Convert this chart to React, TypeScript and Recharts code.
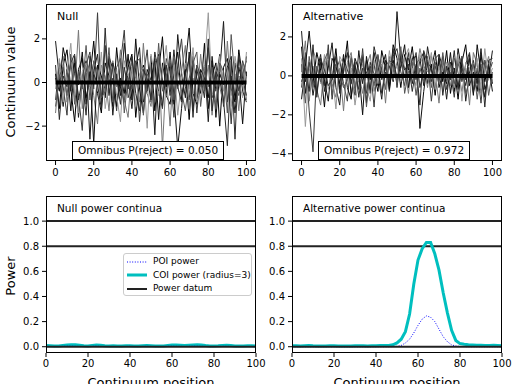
import { LineChart, Line, XAxis, YAxis, ReferenceLine } from 'recharts'

// continuum positions (every 2 units)
const POSITIONS = [
  0, 2, 4, 6, 8, 10, 12, 14, 16, 18, 20, 22, 24, 26, 28, 30, 32, 34, 36, 38, 40, 42, 44, 46, 48, 50,
  52, 54, 56, 58, 60, 62, 64, 66, 68, 70, 72, 74, 76, 78, 80, 82, 84, 86, 88, 90, 92, 94, 96, 98, 100,
]

// null continua
const NULL_1 = [0.4,-1.2,0.8,1.5,-0.3,-1.8,0.6,1.1,-0.7,0.2, 1.9,-0.5,-1.4,0.9,0.3,-1.1,1.6,-0.2,-0.9,0.7, 1.3,-1.6,0.1,0.8,-0.4,1.2,-1.3,0.5,2.1,-0.6, -1.0,0.4,1.4,-0.8,0.6,-1.7,1.0,0.2,-0.5,1.8, -1.2,0.3,0.9,-2.0,0.7,1.1,-0.3,-0.9,1.5,0.2, -0.6]
const NULL_2 = [-0.8,0.9,-0.2,-1.5,1.3,0.4,-0.6,-2.2,0.8,1.4, -0.3,3.2,-1.0,1.7,-0.5,0.2,-1.3,0.9,2.4,-0.7, -0.1,1.0,-1.8,0.3,1.5,-0.9,0.7,-0.4,-1.2,1.1, 0.5,-1.6,0.8,2.0,-0.2,-0.8,1.2,-1.4,0.4,-0.3, 1.6,-0.7,0.1,1.3,-1.1,0.6,-1.9,0.9,-0.4,1.0, 0.3]
const NULL_3 = [1.9,0.2,-1.1,0.6,-0.4,1.2,-1.6,0.3,1.0,-2.6, 0.5,1.3,-0.8,-0.1,1.1,-1.5,0.4,-0.6,1.8,0.2, -1.2,0.7,1.6,-0.9,-0.3,0.8,-2.4,1.3,0.1,-0.5, 0.9,-1.0,2.2,0.4,-0.7,1.4,-1.3,0.6,-0.2,0.8, -1.8,1.2,-0.4,0.5,2.8,-0.9,0.3,-1.4,0.7,-0.1, 1.2]
const NULL_4 = [-1.4,0.6,1.2,-0.9,0.1,-0.5,2.4,-1.2,0.4,0.9, -0.6,-1.9,0.8,0.3,-1.3,1.0,-0.2,1.5,-0.8,-1.6, 0.7,0.2,-0.9,1.8,-0.5,-1.1,0.9,1.2,-3.0,0.4, -2.0,1.1,-0.3,0.5,1.7,-1.2,0.2,-0.7,1.3,-0.4, 0.8,-1.5,0.6,-0.2,-1.0,1.9,-0.6,0.4,-1.3,0.9, -0.8]
const NULL_5 = [0.2,-0.4,1.6,0.7,-1.3,0.9,-0.1,1.4,-1.0,0.5, -2.8,0.8,0.3,-0.7,1.2,0.6,-1.1,0.2,-0.5,1.3, -0.8,2.0,-0.3,-1.4,0.6,0.1,1.1,-1.7,0.9,-0.2, 1.4,-0.6,-3.0,-1.2,0.8,2.5,-0.5,-1.0,0.6,0.2, -0.7,1.0,-1.6,0.4,-0.1,0.7,1.2,-0.8,0.3,-1.9, 0.5]
const NULL_6 = [-0.3,1.1,-0.9,0.4,1.8,-0.7,-1.4,0.5,0.9,-0.2, 0.6,-0.4,1.4,-1.2,0.1,0.8,-0.6,-1.8,1.0,0.3, 0.9,-1.1,0.4,0.7,-2.1,1.3,0.2,-0.6,0.5,1.7, -0.4,0.8,-1.5,0.1,0.9,-0.3,1.6,-0.9,-0.2,0.7, 3.2,-0.5,-0.9,1.2,-0.4,0.6,-1.1,1.2,0.1,-0.7, 1.4]
const NULL_7 = [0.8,-1.7,0.3,-0.2,0.9,1.3,-0.8,0.1,-1.5,1.2, 0.4,-0.1,-1.2,2.5,-0.6,0.9,0.2,-1.0,0.7,-0.3, 1.2,-0.5,-1.3,0.6,0.2,-0.8,1.4,0.4,-1.1,0.8, -0.6,1.5,-0.2,-0.9,0.4,1.1,-1.6,0.8,0.3,-0.7, 2.0,-1.3,0.5,0.1,-0.8,-2.9,1.0,-2.6,1.3,-0.4, -0.9]
const NULL_8 = [-1.1,0.3,0.7,-0.6,1.0,-1.0,0.5,-0.3,1.7,-0.8, 1.0,0.5,-0.7,-0.4,1.6,-0.9,0.7,1.1,-1.4,0.2, -0.3,0.9,1.1,-1.5,0.4,-0.1,-0.9,1.8,-0.4,0.3, 1.0,-0.8,0.6,-0.4,-1.3,0.2,0.9,1.4,-1.1,0.5, -0.2,0.7,-1.2,0.9,0.5,-1.4,2.2,0.1,-0.6,0.4, 1.0]

// alternative continua
const ALT_1 = [1.5,-0.9,0.6,-0.4,1.2,0.3,-1.6,0.8,-0.2,1.4, -0.7,0.2,1.8,-1.1,0.5,-0.3,1.0,-1.4,0.7,0.1, -0.8,1.3,0.4,-0.5,1.6,0.9,-0.6,1.1,0.3,1.5, -0.2,0.8,1.2,-0.4,0.6,-1.0,0.9,-0.3,1.3,-0.9, 0.4,-1.2,0.7,1.6,-0.5,0.2,-0.8,1.1,-0.3,0.6, -0.4]
const ALT_2 = [-0.6,1.2,-1.8,-3.9,0.4,0.9,-0.5,1.6,-1.2,0.3, 0.8,-0.4,-1.3,1.0,0.2,-0.7,1.4,-0.9,0.5,-1.6, 1.1,-0.2,0.6,-0.8,1.0,1.4,0.2,-0.5,0.9,0.4, 1.2,-0.6,0.3,0.8,-1.3,0.5,-0.2,1.0,-0.7,0.2, -1.1,0.9,-0.3,0.6,1.2,-0.9,0.4,-1.4,0.8,0.1, 0.7]
const ALT_3 = [2.3,-0.3,0.7,-1.0,0.2,1.1,-0.8,0.4,1.7,-0.6, -1.5,0.9,0.3,-0.2,-1.0,1.3,-0.4,0.8,-0.9,1.2, 0.1,-1.2,0.8,0.5,-0.3,3.3,0.7,-0.1,1.2,-0.4, 0.6,0.9,-0.5,1.5,0.3,-0.8,1.1,0.4,-1.2,0.7, 0.3,-0.6,1.0,-1.3,0.2,0.8,-0.4,1.4,-0.7,-0.1, 1.3]
const ALT_4 = [0.2,1.8,-1.3,0.5,-0.7,-1.5,0.6,1.0,-0.4,-1.1, 0.4,-1.8,0.7,1.2,-0.5,0.1,-0.9,0.5,1.1,-0.8, 0.3,0.6,-1.4,1.0,-0.2,0.7,1.3,0.4,-0.9,1.0, 0.1,1.4,0.5,-0.6,1.0,0.2,-1.4,0.8,0.3,-0.5, 0.9,0.2,-0.8,0.4,-1.5,1.2,0.6,-0.9,0.3,1.0, -0.3]
const ALT_5 = [-1.2,0.5,2.3,0.1,-0.9,0.7,-0.2,-1.3,0.9,0.5, -0.4,1.1,-0.6,-1.2,0.9,0.3,-2.0,1.0,-0.2,0.6, -0.5,0.4,1.1,-0.7,0.8,-0.1,0.5,1.6,-0.6,0.9, 1.0,-2.7,-0.8,0.7,0.4,1.3,-0.6,0.2,-0.4,1.2, -0.8,1.4,0.2,-0.5,0.9,-1.0,1.6,0.1,-1.1,0.5, -0.8]
const ALT_6 = [0.9,-2.6,0.3,1.3,0.8,-0.4,1.1,-0.7,0.2,-1.7, 1.0,0.6,-0.3,0.4,-1.5,-0.1,0.6,-0.6,-1.3,0.8, -0.4,0.9,-0.6,1.3,0.1,0.5,-0.3,0.9,1.4,0.2, -0.5,1.1,0.4,0.2,1.2,-0.7,0.5,-0.8,0.7,0.3, -0.6,1.1,-1.3,0.7,0.4,-0.4,0.9,-0.6,1.4,-0.2, 0.4]
const ALT_7 = [-0.3,0.4,-0.8,1.6,-1.1,0.9,0.3,-0.5,-0.2,1.0, -0.9,0.3,1.2,-0.4,0.7,-1.1,0.4,0.2,-0.7,1.5, 0.6,-0.9,0.2,-0.3,1.4,-0.6,1.0,0.3,0.6,-0.8, 0.4,-1.5,1.3,0.6,-0.3,0.9,1.1,-1.0,0.5,-0.2, 1.3,-0.7,0.4,-0.2,1.1,-0.8,-0.2,0.6,-1.6,0.8, 0.9]
const ALT_8 = [0.6,-1.4,1.0,-0.6,0.5,-0.3,0.8,1.3,-1.0,0.6, 0.1,-0.6,-0.2,0.9,-0.8,0.6,1.1,-1.6,0.4,-0.5, 1.0,0.2,-0.7,0.8,0.6,-0.4,1.5,-0.9,0.2,0.7, -1.0,0.4,-0.3,1.0,-0.6,0.7,-0.4,1.2,-0.3,0.6, -0.4,0.5,1.0,-0.9,-0.3,0.6,-1.2,0.3,0.8,-1.0, 0.2]

const NULL_CONTINUA = [NULL_1, NULL_2, NULL_3, NULL_4, NULL_5, NULL_6, NULL_7, NULL_8]
const ALT_CONTINUA = [ALT_1, ALT_2, ALT_3, ALT_4, ALT_5, ALT_6, ALT_7, ALT_8]
const GRAYS = ['#000000', '#3a3a3a', '#1a1a1a', '#777777', '#0d0d0d', '#999999', '#2a2a2a', '#555555']

// power continua
const NULL_COI = [0.01,0.008,0.005,0.006,0.01,0.014,0.016,0.015,0.012,0.008, 0.006,0.01,0.013,0.011,0.007,0.006,0.008,0.006,0.005,0.007, 0.008,0.006,0.005,0.008,0.01,0.008,0.006,0.005,0.006,0.01, 0.013,0.014,0.012,0.01,0.012,0.014,0.015,0.013,0.009,0.006, 0.005,0.007,0.01,0.012,0.009,0.006,0.005,0.006,0.008,0.007, 0.006]
const NULL_POI = [0.003,0.002,0.001,0.002,0.003,0.004,0.004,0.003,0.002,0.002, 0.001,0.003,0.004,0.002,0.001,0.002,0.002,0.001,0.001,0.002, 0.003,0.002,0.001,0.002,0.003,0.002,0.001,0.001,0.002,0.003, 0.004,0.003,0.003,0.002,0.003,0.004,0.004,0.003,0.002,0.001, 0.001,0.002,0.003,0.003,0.002,0.001,0.001,0.002,0.002,0.002, 0.001]
const ALT_COI = [0.008,0.007,0.006,0.008,0.009,0.007,0.006,0.005,0.006,0.008, 0.007,0.006,0.005,0.005,0.006,0.007,0.008,0.007,0.006,0.007, 0.008,0.009,0.01,0.01,0.015,0.03,0.06,0.12,0.26,0.5, 0.69,0.78,0.83,0.83,0.74,0.61,0.43,0.27,0.13,0.05, 0.025,0.02,0.016,0.014,0.012,0.011,0.01,0.01,0.012,0.01, 0.008]
const ALT_POI = [0,0,0,0,0,0,0,0,0,0, 0,0,0,0,0,0,0,0,0,0, 0,0,0,0,0.001,0.003,0.01,0.03,0.06,0.11, 0.17,0.22,0.245,0.235,0.2,0.14,0.08,0.04,0.015,0.005, 0.002,0.001,0,0,0,0,0,0,0,0, 0]

const X_TICKS = [0, 20, 40, 60, 80, 100]
const NULL_Y_TICKS = [-2, 0, 2]
const ALT_Y_TICKS = [-4, -2, 0, 2]
const POWER_TICKS = [0, 0.2, 0.4, 0.6, 0.8, 1.0]
const POWER_LEVELS = [0.8, 1.0]

const FONT = '"DejaVu Sans", sans-serif'
const tickStyle = { fill: '#000', fontSize: 10, fontFamily: FONT }
const minus = (v: number) => (v < 0 ? '\u2212' + Math.abs(v) : String(v))

const PLOT_W = 210
const PLOT_H = 157

function Frame({ left, top }: { left: number; top: number }) {
  return (
    <div
      style={{
        position: 'absolute',
        left,
        top,
        width: PLOT_W,
        height: PLOT_H,
        border: '1px solid #000',
        boxSizing: 'border-box',
        pointerEvents: 'none',
      }}
    />
  )
}

function ContinuaPanel({ left, series, yDomain, yTicks, title, pReject, boxLeft }: any) {
  const data = POSITIONS.map((x, i) => {
    const row: any = { x }
    series.forEach((s: number[], k: number) => (row['c' + k] = s[i]))
    return row
  })
  return (
    <>
      <div style={{ position: 'absolute', left: left - 46, top: 0 }}>
        <LineChart width={270} height={181} data={data} margin={{ top: 4, right: 14, bottom: 0, left: 0 }}>
          <XAxis dataKey="x" type="number" domain={[-5, 105]} ticks={X_TICKS} allowDataOverflow axisLine={false}
            tickSize={4} tickMargin={4} height={20} tick={tickStyle} tickLine={{ stroke: '#000' }} />
          <YAxis type="number" domain={yDomain} ticks={yTicks} allowDataOverflow axisLine={false} width={46}
            tickSize={4} tickMargin={2} tick={tickStyle} tickLine={{ stroke: '#000' }} tickFormatter={minus} />
          {series.map((_: number[], k: number) => (
            <Line key={k} dataKey={'c' + k} stroke={GRAYS[k]} strokeWidth={1} dot={false} isAnimationActive={false} />
          ))}
          <ReferenceLine segment={[{ x: 0, y: 0 }, { x: 100, y: 0 }]} stroke="#000" strokeWidth={4} />
        </LineChart>
      </div>
      <Frame left={left} top={4} />
      <div style={{ position: 'absolute', left: left + 11, top: 10, fontSize: 11, fontFamily: FONT }}>{title}</div>
      <div
        style={{
          position: 'absolute',
          left: boxLeft,
          top: 141,
          height: 19,
          boxSizing: 'border-box',
          border: '1px solid #000',
          background: '#fff',
          padding: '0 5px',
          fontSize: 10.5,
          lineHeight: '17px',
          fontFamily: FONT,
          whiteSpace: 'nowrap',
        }}
      >
        Omnibus P(reject) = {pReject}
      </div>
    </>
  )
}

function PowerPanel({ left, coi, poi, title }: any) {
  const data = POSITIONS.map((x, i) => ({ x, coi: coi[i], poi: poi[i] }))
  return (
    <>
      <div style={{ position: 'absolute', left: left - 46, top: 192 }}>
        <LineChart width={270} height={181} data={data} margin={{ top: 4, right: 14, bottom: 0, left: 0 }}>
          <XAxis dataKey="x" type="number" domain={[0, 100]} ticks={X_TICKS} allowDataOverflow axisLine={false}
            tickSize={4} tickMargin={3} height={20} tick={tickStyle} tickLine={{ stroke: '#000' }} />
          <YAxis type="number" domain={[-0.05, 1.2]} ticks={POWER_TICKS} allowDataOverflow axisLine={false} width={46}
            tickSize={4} tickMargin={3} tick={tickStyle} tickLine={{ stroke: '#000' }}
            tickFormatter={(v: number) => v.toFixed(1)} />
          {POWER_LEVELS.map((v) => (
            <ReferenceLine key={v} y={v} stroke="#222" strokeWidth={2} />
          ))}
          <Line dataKey="coi" stroke="#00bfbf" strokeWidth={3} dot={false} isAnimationActive={false} />
          <Line dataKey="poi" stroke="#0000ff" strokeWidth={1} strokeDasharray="1 1.6" dot={false} isAnimationActive={false} />
          <ReferenceLine y={0} stroke="#222" strokeWidth={2} />
        </LineChart>
      </div>
      <Frame left={left} top={196} />
      <div style={{ position: 'absolute', left: left + 11, top: 202, fontSize: 10.5, fontFamily: FONT }}>{title}</div>
      <div style={{ position: 'absolute', left: left, width: PLOT_W, top: 375, textAlign: 'center', fontSize: 13, fontFamily: FONT }}>
        Continuum position
      </div>
    </>
  )
}

function LegendBox() {
  const row = (sample: any, text: string) => (
    <div style={{ display: 'flex', alignItems: 'center', height: 13.5, whiteSpace: 'nowrap' }}>
      <svg width={22} height={8} style={{ marginRight: 5, flexShrink: 0 }}>{sample}</svg>
      <span>{text}</span>
    </div>
  )
  return (
    <div
      style={{
        position: 'absolute',
        left: 123,
        top: 253,
        width: 129,
        height: 43,
        boxSizing: 'border-box',
        border: '1px solid #ccc',
        borderRadius: 3,
        background: 'rgba(255,255,255,0.8)',
        padding: '1px 0 0 2px',
        fontSize: 9,
        fontFamily: FONT,
        lineHeight: 1,
      }}
    >
      {row(<line x1={1} x2={21} y1={4} y2={4} stroke="#0000ff" strokeWidth={1} strokeDasharray="1 1.6" />, 'POI power')}
      {row(<line x1={1} x2={21} y1={4} y2={4} stroke="#00bfbf" strokeWidth={3} />, 'COI power (radius=3)')}
      {row(<line x1={1} x2={21} y1={4} y2={4} stroke="#222" strokeWidth={2} />, 'Power datum')}
    </div>
  )
}

export default function App() {
  return (
    <div style={{ position: 'absolute', left: 0, top: 0, width: 512, height: 384, overflow: 'hidden', background: '#fff' }}>
      <ContinuaPanel left={46} series={NULL_CONTINUA} yDomain={[-3.6, 3.6]} yTicks={NULL_Y_TICKS}
        title="Null" pReject="0.050" boxLeft={72} />
      <ContinuaPanel left={292} series={ALT_CONTINUA} yDomain={[-4.37, 3.69]} yTicks={ALT_Y_TICKS}
        title="Alternative" pReject="0.972" boxLeft={318} />
      <PowerPanel left={46} coi={NULL_COI} poi={NULL_POI} title="Null power continua" />
      <PowerPanel left={292} coi={ALT_COI} poi={ALT_POI} title="Alternative power continua" />
      <LegendBox />
      <div style={{ position: 'absolute', left: 10, top: 82, transform: 'translate(-50%, -50%) rotate(-90deg)', fontSize: 13, fontFamily: FONT, whiteSpace: 'nowrap' }}>
        Continuum value
      </div>
      <div style={{ position: 'absolute', left: 10, top: 276, transform: 'translate(-50%, -50%) rotate(-90deg)', fontSize: 13, fontFamily: FONT, whiteSpace: 'nowrap' }}>
        Power
      </div>
    </div>
  )
}
